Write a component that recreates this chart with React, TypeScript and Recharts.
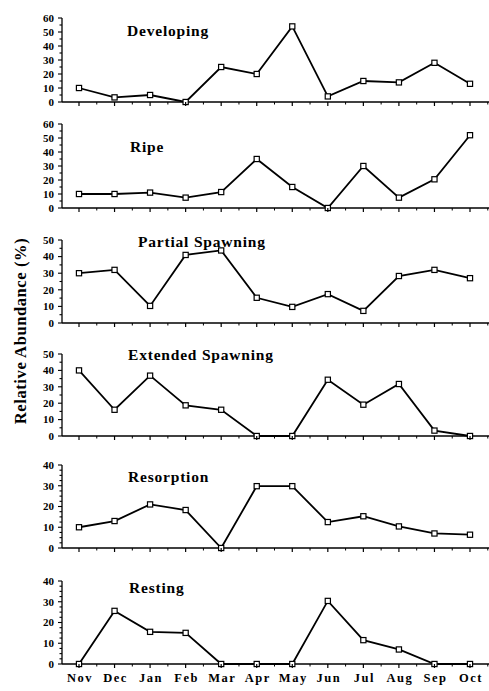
import React from 'react';
import { LineChart, Line, XAxis, YAxis } from 'recharts';

const months = ['Nov', 'Dec', 'Jan', 'Feb', 'Mar', 'Apr', 'May', 'Jun', 'Jul', 'Aug', 'Sep', 'Oct'];
const developing = [10, 3.3, 5, 0, 25, 20, 54, 4, 15, 14, 28, 13];
const ripe = [10, 10, 11, 7.4, 11.4, 35, 15, 0, 30, 7.4, 20.5, 52];
const partialSpawning = [30, 32, 10.3, 41, 43.7, 15.2, 9.7, 17.4, 7.3, 28.3, 32, 27];
const extendedSpawning = [40, 16, 36.8, 18.7, 16, 0, 0, 34.3, 19.1, 31.7, 3.3, 0];
const resorption = [10, 13, 21, 18.3, 0, 29.8, 29.8, 12.5, 15.3, 10.4, 7, 6.4];
const resting = [0, 25.6, 15.5, 15, 0, 0, 0, 30.4, 11.5, 7, 0, 0];
const yLabel = 'Relative Abundance (%)';

const FONT = '"Liberation Serif", "Times New Roman", serif';

const panels = [
  { title: 'Developing', values: developing, max: 60, step: 5, top: 18, bottom: 102, tx: 127, ty: 36 },
  { title: 'Ripe', values: ripe, max: 60, step: 5, top: 124, bottom: 208, tx: 130, ty: 152 },
  { title: 'Partial Spawning', values: partialSpawning, max: 50, step: 5, top: 240, bottom: 323, tx: 138, ty: 247 },
  { title: 'Extended Spawning', values: extendedSpawning, max: 50, step: 5, top: 354, bottom: 436, tx: 128, ty: 360 },
  { title: 'Resorption', values: resorption, max: 40, step: 2.5, top: 465, bottom: 548, tx: 128, ty: 482 },
  { title: 'Resting', values: resting, max: 40, step: 2.5, top: 581, bottom: 664, tx: 129, ty: 593 },
];

const W = 489;
const HALF = (W - 62 - 17 - 19) / 11 / 2;

function makeTicks(max: number, step: number) {
  const t: number[] = [];
  for (let v = 0; v <= max + 1e-9; v += step) t.push(Math.round(v * 100) / 100);
  return t;
}

const XTick = (showLabels: boolean) => (props: any) => {
  const { x, y, payload } = props;
  return (
    <g>
      <line x1={x} y1={y} x2={x} y2={y + 4} stroke="#000" strokeWidth={1.2} />
      <line x1={x + HALF} y1={y} x2={x + HALF} y2={y + 2.5} stroke="#000" strokeWidth={1} />
      {showLabels && (
        <text
          x={x + 1}
          y={y + 18}
          textAnchor="middle"
          fontFamily={FONT}
          fontWeight="bold"
          fontSize={12.5}
          letterSpacing={1.5}
          fill="#000"
        >
          {payload.value}
        </text>
      )}
    </g>
  );
};

const YTick = (props: any) => {
  const { x, y, payload } = props;
  const v = payload.value;
  const major = Math.abs(v % 10) < 1e-6;
  return (
    <g>
      <line x1={x - (major ? 4 : 2.5)} y1={y} x2={x} y2={y} stroke="#000" strokeWidth={1.1} />
      {major && (
        <text
          x={x - 8}
          y={y + 3.8}
          textAnchor="end"
          fontFamily={FONT}
          fontWeight="bold"
          fontSize={11}
          fill="#000"
        >
          {v}
        </text>
      )}
    </g>
  );
};

const SquareDot = (props: any) => {
  const { cx, cy, index } = props;
  if (cx == null || cy == null) return <g key={index} />;
  return (
    <rect
      key={index}
      x={cx - 2.6}
      y={cy - 2.6}
      width={5.2}
      height={5.2}
      fill="#fff"
      stroke="#000"
      strokeWidth={1.2}
    />
  );
};

export default function App() {
  return (
    <div style={{ position: 'absolute', left: 0, top: 0, width: W, height: 691, background: '#fff' }}>
      {panels.map((p, i) => {
        const data = months.map((m, k) => ({ month: m, value: p.values[k] }));
        const plotH = p.bottom - p.top;
        const last = i === panels.length - 1;
        const topPad = 10;
        const xH = 30;
        return (
          <div key={p.title} style={{ position: 'absolute', left: 0, top: p.top - topPad }}>
            <LineChart
              width={W}
              height={plotH + topPad + xH}
              data={data}
              margin={{ top: topPad, right: 0, bottom: 0, left: 0 }}
            >
              <XAxis
                dataKey="month"
                type="category"
                interval={0}
                padding={{ left: 17, right: 19 }}
                height={xH}
                tickSize={0}
                tickMargin={0}
                tickLine={false}
                axisLine={{ stroke: '#000', strokeWidth: 1.3 }}
                tick={XTick(last)}
              />
              <YAxis
                type="number"
                domain={[0, p.max]}
                ticks={makeTicks(p.max, p.step)}
                interval={0}
                width={62}
                tickSize={0}
                tickMargin={0}
                tickLine={false}
                axisLine={{ stroke: '#000', strokeWidth: 1.3 }}
                tick={YTick}
              />
              <Line
                type="linear"
                dataKey="value"
                stroke="#000"
                strokeWidth={1.8}
                dot={SquareDot}
                activeDot={false}
                isAnimationActive={false}
              />
            </LineChart>
          </div>
        );
      })}
      <svg
        width={W}
        height={691}
        style={{ position: 'absolute', left: 0, top: 0, pointerEvents: 'none' }}
      >
        {panels.map((p) => (
          <text
            key={p.title}
            x={p.tx}
            y={p.ty}
            fontFamily={FONT}
            fontWeight="bold"
            fontSize={15.5}
            letterSpacing={0.8}
            fill="#000"
          >
            {p.title}
          </text>
        ))}
        <text
          x={0}
          y={0}
          transform="translate(26, 331) rotate(-90)"
          textAnchor="middle"
          fontFamily={FONT}
          fontWeight="bold"
          fontSize={16.5}
          letterSpacing={0.6}
          fill="#000"
        >
          {yLabel}
        </text>
      </svg>
    </div>
  );
}
